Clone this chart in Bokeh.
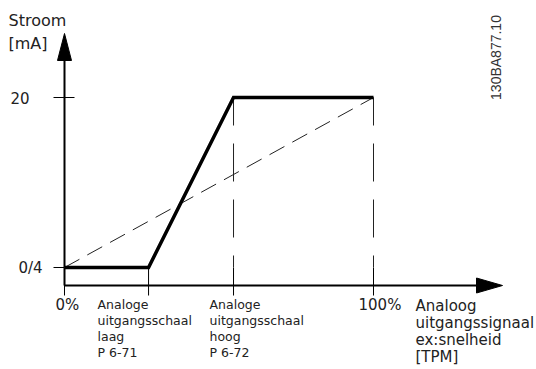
import math
from bokeh.plotting import figure
from bokeh.models import Range1d, Label
from bokeh.embed import file_html
from bokeh.resources import INLINE

# ---------------- data ----------------
# analog output scale (% of range) vs output current (mA)
x_break = [0, 27.2, 54.7, 100]          # 0%, laag (P 6-71), hoog (P 6-72), 100%
y_current = [4, 4, 20, 20]              # mA
ref_x = [0, 100]                        # linear reference (no scaling)
ref_y = [4, 20]
y_ticks = [4, 20]
y_tick_labels = ["0/4", "20"]
x_ticks = [0, 27.2, 54.7, 100]
x_tick_labels = ["0%", "", "", "100%"]
low_label = ["Analoge", "uitgangsschaal", "laag", "P 6-71"]
high_label = ["Analoge", "uitgangsschaal", "hoog", "P 6-72"]
x_title = ["Analoog", "uitgangssignaal", "ex:snelheid", "[TPM]"]
y_title = ["Stroom", "[mA]"]
doc_id = "130BA877.10"

# ---------------- layout (pixel geometry of the page) ----------------
W, H = 536, 369
SX = 3.09      # px per %
SY = 10.625    # px per mA

def X(px):
    return (px - 64) / SX

def Y(py):
    return 4 + (267 - py) / SY

def DX(d):
    return d / SX

def DY(d):
    return d / SY

p = figure(width=W, height=H, x_range=Range1d(X(0), X(W)), y_range=Range1d(Y(H), Y(0)),
           output_backend="svg", toolbar_location=None,
           min_border=0, min_border_left=0, min_border_right=0,
           min_border_top=0, min_border_bottom=0)
p.axis.visible = False
p.grid.visible = False
p.outline_line_color = None
p.background_fill_color = "white"
p.border_fill_color = "white"

x_axis_y = Y(285)
y_axis_x = x_ticks[0]
x_tip = X(502)
y_tip = Y(33)

# axis lines
p.segment(x0=[y_axis_x, y_axis_x], y0=[x_axis_y, x_axis_y],
          x1=[x_tip - DX(20), y_axis_x], y1=[x_axis_y, y_tip - DY(20)],
          line_color="black", line_width=2)
# axis ticks
p.segment(x0=x_ticks, y0=[x_axis_y - DY(10)] * len(x_ticks),
          x1=x_ticks, y1=[x_axis_y + DY(18)] * len(x_ticks),
          line_color="black", line_width=1)
p.segment(x0=[y_axis_x - DX(11)] * len(y_ticks), y0=y_ticks,
          x1=[y_axis_x + DX(10)] * len(y_ticks), y1=y_ticks,
          line_color="black", line_width=1)

# dashed reference line
p.line(ref_x, ref_y, line_color="#222222", line_width=1, line_dash="17 9")
# vertical dashed guides at hoog and 100%
p.segment(x0=x_break[2:], y0=y_current[2:], x1=x_break[2:], y1=[y_current[0]] * 2,
          line_color="#222222", line_width=1, line_dash="38 18", line_dash_offset=10)
# output curve
p.line(x_break, y_current, line_color="black", line_width=3.5, line_join="miter")

# axis arrow heads
p.patch([y_axis_x, y_axis_x - DX(7), y_axis_x + DX(7)],
        [y_tip, y_tip - DY(27), y_tip - DY(27)], color="black")
p.patch([x_tip, x_tip - DX(26), x_tip - DX(26)],
        [x_axis_y, x_axis_y + DY(7.5), x_axis_y - DY(7.5)], color="black")

FONT = "DejaVu Sans"
TXT = "#222222"

def lab(x, y, text, size, **kw):
    p.add_layout(Label(x=x, y=y, text=text, text_font=FONT, text_font_size=size,
                       text_color=TXT, text_align="left", text_baseline="middle", **kw))

# y title
for i, t in enumerate(y_title):
    lab(X(8), Y(20 + i * 23), t, "16px")
# y tick labels
lab(X(18), y_ticks[0], y_tick_labels[0], "15px")
lab(X(10), y_ticks[1], y_tick_labels[1], "15px")
# x tick labels
lab(x_ticks[0] + DX(-9), Y(304), x_tick_labels[0], "15px")
lab(x_ticks[3] + DX(-15), Y(304), x_tick_labels[3], "15px")
# breakpoint labels
for i, t in enumerate(low_label):
    lab(x_ticks[1] + DX(-51), Y(304 + i * 16), t, "12.5px")
for i, t in enumerate(high_label):
    lab(x_ticks[2] + DX(-24), Y(304 + i * 16), t, "12.5px")
# x title
for i, t in enumerate(x_title):
    lab(X(415), Y(305 + i * 17.3), t, "15px")

# document id (rotated)
p.add_layout(Label(x=X(495), y=Y(57), text=doc_id, angle=math.pi / 2,
                   text_font="Liberation Sans", text_font_size="14px",
                   text_color="#333333", text_align="center", text_baseline="middle"))

open("out.html", "w").write(file_html(p, INLINE))
